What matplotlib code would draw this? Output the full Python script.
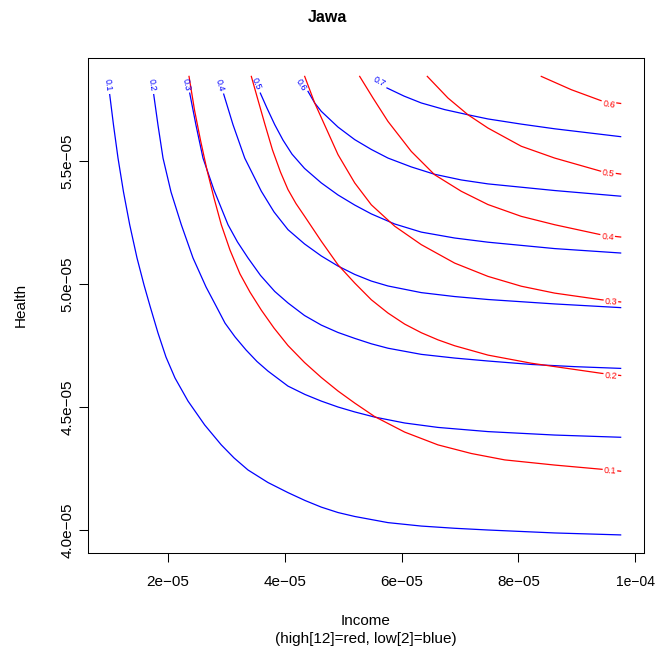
import numpy as np
import matplotlib
matplotlib.use("Agg")
import matplotlib.pyplot as plt

plt.rcParams['font.family'] = ['Liberation Sans', 'DejaVu Sans']

# contour lines, x and y in units of 1e-5
# low[2] (blue), levels 0.1 .. 0.7
blue_levels = ["0.1", "0.2", "0.3", "0.4", "0.5", "0.6", "0.7"]
blue_x = [
    [1.006, 1.071, 1.148, 1.242, 1.348, 1.473, 1.593, 1.695, 1.832, 1.969, 2.123, 2.346, 2.631, 2.915,
     3.133, 3.372, 3.714, 4.056, 4.347, 4.626, 4.912, 5.198, 5.767, 6.337, 6.908, 7.478, 8.619, 9.748],
    [1.759, 1.832, 1.918, 2.055, 2.231, 2.431, 2.654, 2.825, 2.979, 3.150, 3.338, 3.526, 3.714, 4.056,
     4.347, 4.626, 4.912, 5.198, 5.540, 6.053, 6.623, 7.478, 8.619, 9.748],
    [2.375, 2.482, 2.602, 2.790, 3.030, 3.192, 3.372, 3.586, 3.829, 4.056, 4.339, 4.626, 4.912, 5.198,
     5.482, 5.767, 6.337, 6.908, 7.478, 8.219, 8.966, 9.748],
    [2.956, 3.115, 3.316, 3.600, 3.817, 4.056, 4.339, 4.626, 4.912, 5.198, 5.482, 5.767, 6.337, 6.908,
     7.478, 8.619, 9.748],
    [3.583, 3.697, 3.829, 3.971, 4.125, 4.339, 4.626, 4.912, 5.198, 5.482, 5.882, 6.337, 6.908, 7.478,
     8.619, 9.748],
    [4.399, 4.513, 4.626, 4.912, 5.198, 5.482, 5.767, 6.166, 6.566, 7.021, 7.478, 8.619, 9.748],
    [5.750, 6.041, 6.337, 6.737, 7.136, 7.478, 8.048, 8.619, 9.748],
]
blue_y = [
    [5.770, 5.646, 5.512, 5.374, 5.241, 5.106, 4.996, 4.911, 4.801, 4.703, 4.618, 4.524, 4.427, 4.346,
     4.293, 4.244, 4.193, 4.152, 4.120, 4.093, 4.071, 4.055, 4.030, 4.016, 4.007, 4.000, 3.988, 3.980],
    [5.770, 5.646, 5.512, 5.374, 5.241, 5.106, 4.988, 4.911, 4.841, 4.785, 4.732, 4.685, 4.646, 4.585,
     4.551, 4.524, 4.500, 4.480, 4.459, 4.435, 4.417, 4.400, 4.386, 4.377],
    [5.776, 5.646, 5.512, 5.382, 5.241, 5.171, 5.106, 5.035, 4.970, 4.923, 4.872, 4.833, 4.803, 4.779,
     4.757, 4.739, 4.714, 4.699, 4.687, 4.673, 4.664, 4.657],
    [5.772, 5.648, 5.512, 5.377, 5.293, 5.221, 5.163, 5.114, 5.073, 5.039, 5.012, 4.992, 4.965, 4.949,
     4.937, 4.919, 4.904],
    [5.776, 5.715, 5.648, 5.585, 5.528, 5.470, 5.411, 5.362, 5.321, 5.285, 5.244, 5.211, 5.187, 5.170,
     5.144, 5.126],
    [5.783, 5.736, 5.702, 5.638, 5.587, 5.547, 5.512, 5.476, 5.446, 5.423, 5.407, 5.380, 5.357],
    [5.797, 5.764, 5.736, 5.709, 5.688, 5.671, 5.650, 5.631, 5.599],
]
blue_lab_x = [0.977, 1.725, 2.323, 2.893, 3.509, 4.284, 5.613]
blue_lab_y = [5.809, 5.809, 5.809, 5.809, 5.813, 5.810, 5.821]
blue_lab_rot = [-83, -82, -79, -74, -67, -58, -28]

# high[12] (red), levels 0.1 .. 0.6
red_levels = ["0.1", "0.2", "0.3", "0.4", "0.5", "0.6"]
red_x = [
    [2.363, 2.457, 2.559, 2.671, 2.790, 2.915, 3.064, 3.235, 3.406, 3.600, 3.817, 4.056, 4.339, 4.626,
     4.912, 5.198, 5.540, 6.053, 6.623, 7.193, 7.764, 8.619, 9.417, 9.748],
    [3.429, 3.543, 3.663, 3.791, 3.928, 4.056, 4.193, 4.342, 4.626, 4.912, 5.198, 5.482, 5.767, 6.053,
     6.337, 6.623, 6.908, 7.478, 8.219, 9.417, 9.748],
    [4.342, 4.513, 4.707, 4.912, 5.198, 5.482, 5.882, 6.337, 6.908, 7.478, 8.048, 8.619, 9.417, 9.748],
    [5.283, 5.511, 5.767, 6.166, 6.566, 7.021, 7.478, 8.048, 8.619, 9.417, 9.748],
    [6.440, 6.794, 7.136, 7.478, 8.048, 8.619, 9.417, 9.748],
    [8.390, 8.903, 9.417, 9.748],
]
red_y = [
    [5.844, 5.707, 5.585, 5.463, 5.350, 5.241, 5.138, 5.041, 4.967, 4.894, 4.821, 4.750, 4.681, 4.620,
     4.565, 4.516, 4.461, 4.398, 4.346, 4.311, 4.285, 4.264, 4.247, 4.239],
    [5.844, 5.748, 5.648, 5.545, 5.455, 5.384, 5.327, 5.275, 5.174, 5.078, 5.004, 4.936, 4.882, 4.837,
     4.802, 4.773, 4.749, 4.711, 4.678, 4.637, 4.628],
    [5.844, 5.736, 5.634, 5.526, 5.411, 5.322, 5.235, 5.160, 5.085, 5.031, 4.991, 4.963, 4.936, 4.927],
    [5.844, 5.756, 5.661, 5.539, 5.444, 5.377, 5.323, 5.275, 5.241, 5.200, 5.191],
    [5.844, 5.756, 5.688, 5.634, 5.560, 5.512, 5.458, 5.447],
    [5.844, 5.790, 5.745, 5.734],
]
red_lab_x = [9.565, 9.579, 9.582, 9.526, 9.540, 9.548]
red_lab_y = [4.242, 4.628, 4.927, 5.189, 5.451, 5.730]
red_lab_rot = [-3, -4, -3, -5, -8, -9]

xtick_vals = [2, 4, 6, 8, 10]
xtick_labels = ["2e\u221205", "4e\u221205", "6e\u221205", "8e\u221205", "1e\u221204"]
ytick_vals = [4.0, 4.5, 5.0, 5.5]
ytick_labels = ["4.0e\u221205", "4.5e\u221205", "5.0e\u221205", "5.5e\u221205"]

S = 1e-5
W, H = 655, 651

fig = plt.figure(figsize=(6.55, 6.51), dpi=100)
ax = fig.add_axes([87.5 / W, 1 - 553 / H, 556 / W, 495.3 / H])


def draw(xs, ys, color, gap=None):
    xs = np.asarray(xs) * S
    ys = np.asarray(ys) * S
    if gap is None:
        ax.plot(xs, ys, color=color, lw=0.9)
        return
    g0, g1 = gap[0] * S, gap[1] * S
    m = xs < g0
    ax.plot(np.append(xs[m], g0), np.append(ys[m], np.interp(g0, xs, ys)), color=color, lw=0.9)
    m = xs > g1
    if m.any():
        ax.plot(np.insert(xs[m], 0, g1), np.insert(ys[m], 0, np.interp(g1, xs, ys)), color=color, lw=0.9)


for i, lev in enumerate(blue_levels):
    draw(blue_x[i], blue_y[i], "#0000FF")
    ax.text(blue_lab_x[i] * S, blue_lab_y[i] * S, lev, color="#0000FF", fontsize=6.4,
            rotation=blue_lab_rot[i], ha="center", va="center", rotation_mode="anchor")

half = 0.135
for i, lev in enumerate(red_levels):
    draw(red_x[i], red_y[i], "#FF0000", gap=(red_lab_x[i] - half, red_lab_x[i] + half))
    ax.text(red_lab_x[i] * S, red_lab_y[i] * S, lev, color="#FF0000", fontsize=6.4,
            rotation=red_lab_rot[i], ha="center", va="center", rotation_mode="anchor")

ax.set_xlim(0.626 * S, 10.139 * S)
ax.set_ylim(3.9065 * S, 5.920 * S)
ax.set_xticks([v * S for v in xtick_vals])
ax.set_xticklabels(xtick_labels, fontsize=11)
ax.get_xticklabels()[-1].set_fontsize(10)   # keep the last label inside the figure
ax.set_yticks([v * S for v in ytick_vals])
ax.set_yticklabels(ytick_labels, fontsize=11, rotation=90, va="center")
ax.tick_params(axis="x", length=6.8, width=0.75, pad=9.3)
ax.tick_params(axis="y", length=6.8, width=0.75, pad=2.5)
for sp in ax.spines.values():
    sp.set_linewidth(0.75)

fig.text(327.5 / W, 1 - 18 / H, "Jawa", fontsize=11.5, fontweight="bold", ha="center", va="center")
fig.text(365.5 / W, 1 - 621 / H, "Income", fontsize=11, ha="center", va="center")
fig.text(365.5 / W, 1 - 639 / H, "(high[12]=red, low[2]=blue)", fontsize=11, ha="center", va="center")
fig.text(21 / W, 1 - 305 / H, "Health", fontsize=11, rotation=90, ha="center", va="center")

fig.savefig("out.png", dpi=100)
